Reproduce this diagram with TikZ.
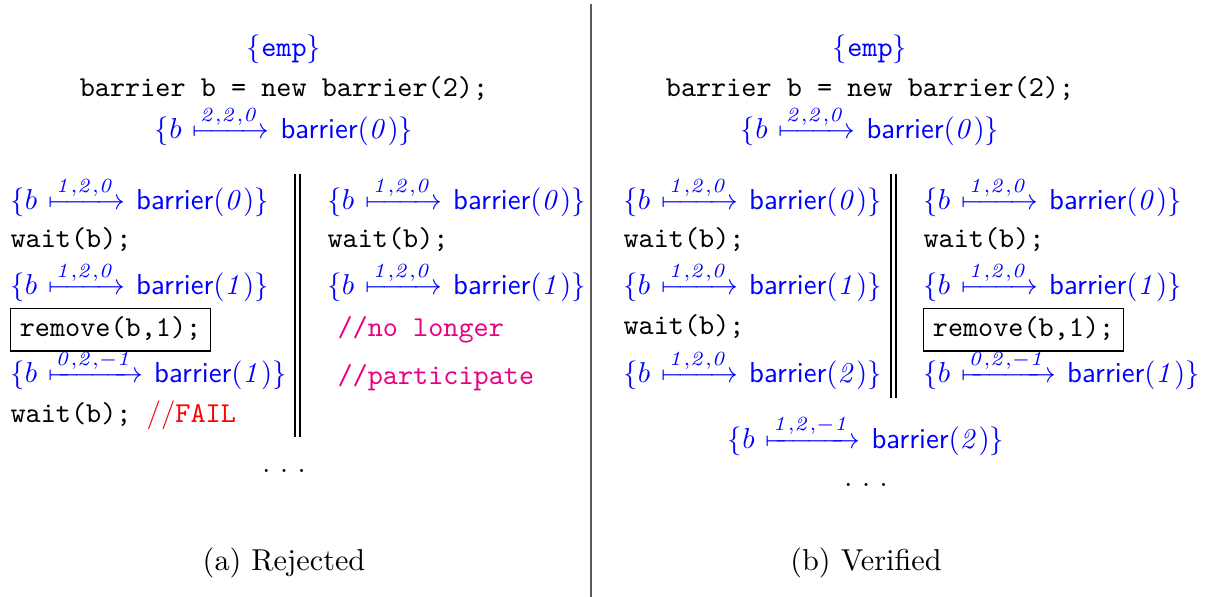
\documentclass[tikz,border=0pt]{standalone}
\usepackage{mathtools}
\usepackage{xcolor}
\definecolor{assertblue}{RGB}{0,0,255}
\definecolor{commentpink}{RGB}{232,0,128}
\definecolor{failred}{RGB}{255,0,0}
\definecolor{sepgray}{RGB}{90,90,90}
% assertion {b |-(k,n,d)-> barrier(c)}
\newcommand{\bst}[2]{\ensuremath{\{b\mkern2mu\xmapsto{\mathit{#1}}\mkern2mu\textsf{barrier}(\mathit{#2})\}}}
\begin{document}
\begin{tikzpicture}[x=0.3472pt,y=-0.3472pt,
  every node/.style={inner sep=0pt},
  asrt/.style={text=assertblue,anchor=base west},
  casrt/.style={text=assertblue,anchor=base},
  code/.style={font=\ttfamily,anchor=base west},
  ccode/.style={font=\ttfamily,anchor=base},
  cmt/.style={font=\ttfamily,text=commentpink,anchor=base west},
  boxed/.style={draw,line width=0.45pt,font=\ttfamily,anchor=base west,
    inner xsep=3.2pt,inner ysep=2.4pt,text height=7.5pt,text depth=2.5pt},
  par/.style={line width=0.45pt},
  caption/.style={font=\fontsize{10.5}{12.6}\selectfont,anchor=base}]
\useasboundingbox (0,0) rectangle (1207,597);

% separator between the two sub-figures
\coordinate (septop) at (591,4);
\coordinate (sepbot) at (591,597);
\draw[sepgray,line width=0.55pt] (septop) -- (sepbot);

% ---------------- (a) Rejected ----------------
\node[casrt] (aemp) at (284,57) {$\{\texttt{emp}\}$};
\node[ccode] (anew) at (284,97) {barrier b = new barrier(2);};
\node[casrt] (apost) at (284,139) {\bst{2,2,0}{0}};

% thread 1
\node[asrt] (al1) at (10,210) {\bst{1,2,0}{0}};
\node[code] (al2) at (10,248) {wait(b);};
\node[asrt] (al3) at (10,295) {\bst{1,2,0}{1}};
\node[boxed] (al4) at (10,337) {remove(b,1);};
\node[asrt] (al5) at (10,383) {\bst{0,2,-1}{1}};
\node[code] (al6) at (10,423) {wait(b); {\color{failred}$//$FAIL}};

% parallel composition bars
\coordinate (ap1t) at (295,174); \coordinate (ap1b) at (295,437);
\coordinate (ap2t) at (300,174); \coordinate (ap2b) at (300,437);
\draw[par] (ap1t) -- (ap1b);
\draw[par] (ap2t) -- (ap2b);

% thread 2
\node[asrt] (ar1) at (327,210) {\bst{1,2,0}{0}};
\node[code] (ar2) at (327,248) {wait(b);};
\node[asrt] (ar3) at (327,295) {\bst{1,2,0}{1}};
\node[cmt] (ar4) at (337,337) {//no longer};
\node[cmt] (ar5) at (337,385) {//participate};

\node[anchor=base] (adots) at (284,473) {.~.~.};
\node[caption] (acap) at (284,570) {(a) Rejected};

% ---------------- (b) Verified ----------------
\node[casrt] (bemp) at (870,57) {$\{\texttt{emp}\}$};
\node[ccode] (bnew) at (870,97) {barrier b = new barrier(2);};
\node[casrt] (bpost) at (870,139) {\bst{2,2,0}{0}};

% thread 1
\node[asrt] (bl1) at (623,210) {\bst{1,2,0}{0}};
\node[code] (bl2) at (623,248) {wait(b);};
\node[asrt] (bl3) at (623,295) {\bst{1,2,0}{1}};
\node[code] (bl4) at (623,335) {wait(b);};
\node[asrt] (bl5) at (623,383) {\bst{1,2,0}{2}};

% parallel composition bars
\coordinate (bp1t) at (891,174); \coordinate (bp1b) at (891,398);
\coordinate (bp2t) at (896,174); \coordinate (bp2b) at (896,398);
\draw[par] (bp1t) -- (bp1b);
\draw[par] (bp2t) -- (bp2b);

% thread 2
\node[asrt] (br1) at (923,210) {\bst{1,2,0}{0}};
\node[code] (br2) at (923,248) {wait(b);};
\node[asrt] (br3) at (923,295) {\bst{1,2,0}{1}};
\node[boxed] (br4) at (923,337) {remove(b,1);};
\node[asrt] (br5) at (923,383) {\bst{0,2,-1}{1}};

\node[casrt] (bjoin) at (866,448) {\bst{1,2,-1}{2}};
\node[anchor=base] (bdots) at (866,486) {.~.~.};
\node[caption] (bcap) at (866,570) {(b) Verified};
\end{tikzpicture}
\end{document}
